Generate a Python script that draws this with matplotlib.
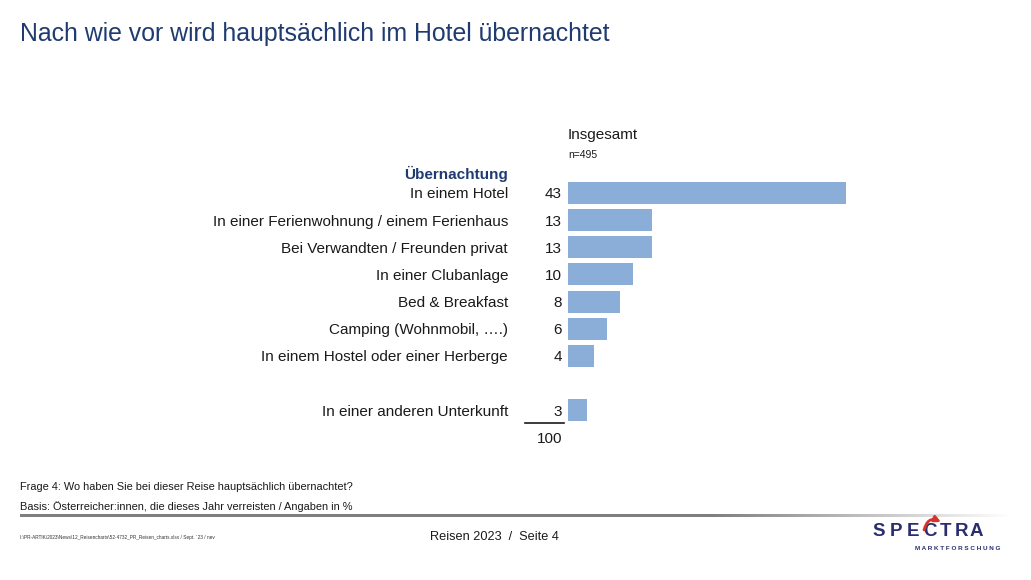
import numpy as np
import matplotlib.pyplot as plt

plt.rcParams['font.family'] = ['Liberation Sans', 'DejaVu Sans']

# data
categories = ['In einem Hotel',
              'In einer Ferienwohnung / einem Ferienhaus',
              'Bei Verwandten / Freunden privat',
              'In einer Clubanlage',
              'Bed & Breakfast',
              'Camping (Wohnmobil, ….)',
              'In einem Hostel oder einer Herberge',
              'In einer anderen Unterkunft']
values = [43, 13, 13, 10, 8, 6, 4, 3]
rows = [0, 1, 2, 3, 4, 5, 6, 8]   # empty row before the last category
total = 100

TITLE_BLUE = '#1f3b70'
BAR_COL = '#8aaed8'
TXT = '#1a1a1a'

W, H = 1031, 580
fig = plt.figure(figsize=(W / 100, H / 100), dpi=100)

# overlay axes in pixel coordinates for free text
bg = fig.add_axes([0, 0, 1, 1])
bg.axis('off')

# bar axes: row 0 centred at y=193 px, 27.15 px per row, 6.465 px per unit
row_h = 27.15
y_top = 193 - row_h / 2
n_rows = 10
ax_h = n_rows * row_h
x0 = 568
xmax = 60
ax = fig.add_axes([x0 / W, 1 - (y_top + ax_h) / H, xmax * 6.465 / W, ax_h / H])
ax.barh(rows, values, height=0.81, color=BAR_COL)
ax.set_xlim(0, xmax)
ax.set_ylim(n_rows - 0.5, -0.5)
ax.axis('off')

DY = 1.5  # small nudge so text centres match the reference

def row_y(r):
    return y_top + (r + 0.5) * row_h + DY

for cat, v, r in zip(categories, values, rows):
    bg.text(508, row_y(r), cat, ha='right', va='center', fontsize=11, color=TXT)
    bg.text(562, row_y(r), str(v), ha='right', va='center', fontsize=11, color=TXT)

# sum line and total
bg.plot([525, 564], [423, 423], color=TXT, lw=1.2)
bg.text(562, row_y(9), str(total), ha='right', va='center', fontsize=11, color=TXT)

# headers
bg.text(508, 172 + DY, 'Übernachtung', ha='right', va='center', fontsize=11,
        fontweight='bold', color=TITLE_BLUE)
bg.text(568, 134 + DY, 'Insgesamt', ha='left', va='center', fontsize=11, color=TXT)
bg.text(568, 153 + DY, 'n=495', ha='left', va='center', fontsize=7.5, color=TXT)

# title
bg.text(20, 34, 'Nach wie vor wird hauptsächlich im Hotel übernachtet', ha='left', va='center',
        fontsize=17.9, color=TITLE_BLUE)

# footnotes
bg.text(20, 486 + DY, 'Frage 4: Wo haben Sie bei dieser Reise hauptsächlich übernachtet?',
        ha='left', va='center', fontsize=7.9, color=TXT)
bg.text(20, 505 + DY, 'Basis: Österreicher:innen, die dieses Jahr verreisten / Angaben in %',
        ha='left', va='center', fontsize=7.9, color=TXT)

# gradient rule
xs = np.linspace(0, 1, 400)
grey = 0.5 + 0.5 * np.clip((xs - 0.7) / 0.3, 0, 1)
strip = np.dstack([grey, grey, grey])[0][None, :, :]
bg.imshow(np.repeat(strip, 2, axis=0), extent=(20, 1012, 517.5, 515), aspect='auto',
          interpolation='bilinear', zorder=1)
bg.set_xlim(0, W)
bg.set_ylim(H, 0)

bg.text(20, 537, r'I:\PR-ARTIK\2023\News\12_Reisencharts\52-4732_PR_Reisen_charts.xlsx / Sept. ´23 / nev',
        ha='left', va='center', fontsize=3.4, color='#333333')
bg.text(494, 537, 'Reisen 2023  /  Seite 4', ha='center', va='center', fontsize=9.2, color=TXT)

# logo
LOGO = '#2b2d6e'
for ch, xp in zip('SPECTRA', [879, 896, 913, 930, 946, 961, 976]):
    bg.text(xp, 531, ch, ha='center', va='center', fontsize=13.5, fontweight='bold', color=LOGO)
bg.annotate('', xy=(941, 522), xytext=(924, 530),
            arrowprops=dict(arrowstyle='-|>', color='#d9342b', lw=2,
                            connectionstyle='arc3,rad=-0.6', mutation_scale=9,
                            shrinkA=0, shrinkB=0))
bg.text(958, 548, 'M A R K T F O R S C H U N G', ha='center', va='center', fontsize=4.6,
        fontweight='bold', color=LOGO)

fig.savefig('out.png', dpi=100)
